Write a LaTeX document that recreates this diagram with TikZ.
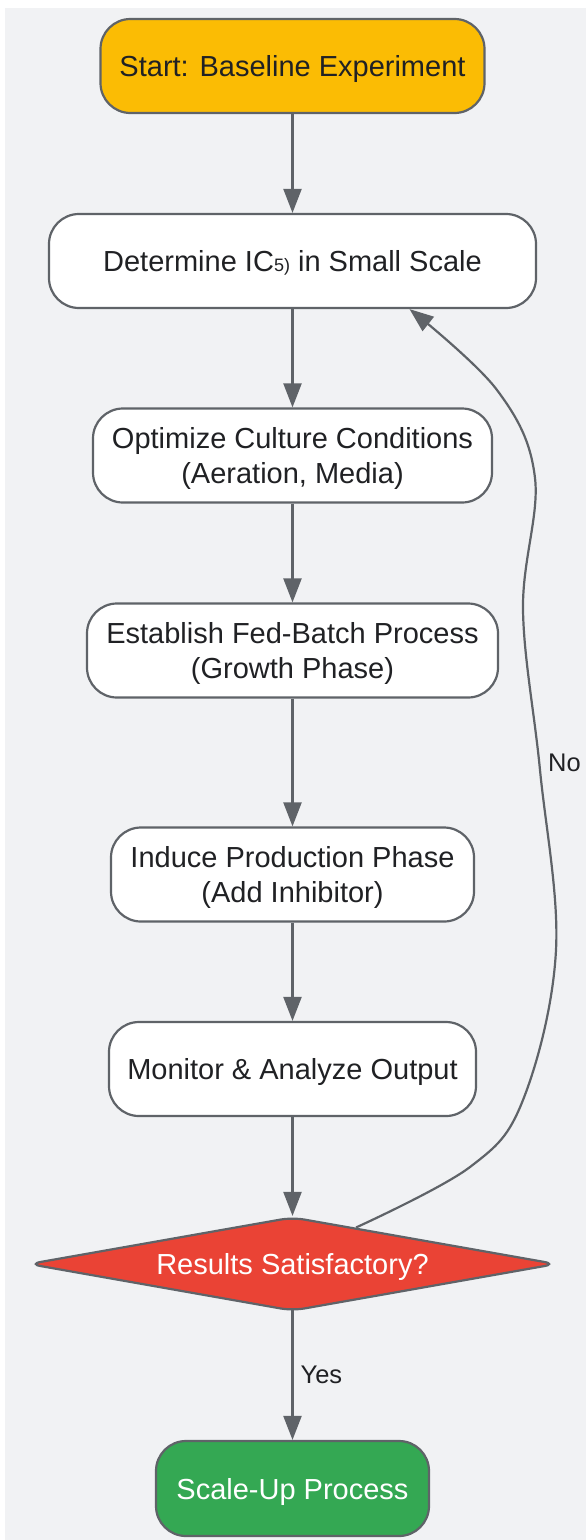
\documentclass[tikz,border=0pt]{standalone}
\usepackage{fontspec}
\setmainfont{Liberation Sans}
\usetikzlibrary{shapes.geometric,arrows.meta,calc}
\definecolor{bg}{HTML}{F1F2F4}
\definecolor{edge}{HTML}{5F6368}
\definecolor{txt}{HTML}{202124}
\definecolor{yellowfill}{HTML}{FBBC04}
\definecolor{redfill}{HTML}{EA4335}
\definecolor{greenfill}{HTML}{34A853}
\begin{document}
\begin{tikzpicture}[x=1pt,y=-1pt,
  box/.style={draw=edge, line width=2.2pt, rounded corners=30pt, fill=white,
    minimum height=94pt, text=txt, align=center, inner sep=0pt,
    font=\fontsize{29}{35}\selectfont, text height=21pt, text depth=0pt},
  twoline/.style={text height=56pt, text depth=0pt},
  arr/.style={draw=edge, line width=2.2pt, -{Triangle[length=24pt,width=18pt]}},
  lbl/.style={text=txt, inner sep=0pt, font=\fontsize{25.5}{30}\selectfont}]
\useasboundingbox (0,0) rectangle (586,1540);
\fill[bg] (5,8) rectangle (586,1540);
\node[box, fill=yellowfill, minimum width=384pt] (start) at (292.5,66) {Start: Baseline Experiment};
\node[box, minimum width=487pt] (det) at (292.5,261) {Determine IC{\fontsize{18}{20}\selectfont 5)} in Small Scale};
\node[box, twoline, minimum width=399pt] (opt) at (292.5,455.5) {Optimize Culture Conditions\\(Aeration, Media)};
\node[box, twoline, minimum width=411pt] (est) at (292.5,650.5) {Establish Fed-Batch Process\\(Growth Phase)};
\node[box, twoline, minimum width=363pt] (ind) at (292.5,874.5) {Induce Production Phase\\(Add Inhibitor)};
\node[box, minimum width=367pt] (mon) at (292.5,1069) {Monitor \& Analyze Output};
\node[diamond, aspect=5.5, draw=edge, line width=2.2pt, fill=redfill, minimum width=528pt,
  minimum height=94pt, inner sep=0pt, rounded corners=12pt, text=white,
  font=\fontsize{29}{35}\selectfont, text height=21pt, text depth=0pt] (dec) at (292.5,1264) {Results Satisfactory?};
\node[box, fill=greenfill, text=white, minimum width=273pt, minimum height=95pt] (end) at (292.5,1488.5) {Scale-Up Process};
\draw[arr] (start) -- (det);
\draw[arr] (det) -- (opt);
\draw[arr] (opt) -- (est);
\draw[arr] (est) -- (ind);
\draw[arr] (ind) -- (mon);
\draw[arr] (mon) -- (dec);
\draw[arr] ([yshift=3pt]dec.south) -- node[lbl, anchor=west, xshift=7pt] {Yes} (end);
\coordinate (noS) at ($(dec.north)!0.24!(dec.east)$);
\coordinate (noE) at ([xshift=117pt]det.south);
\draw[arr] plot[smooth, tension=0.6] coordinates {(noS) (470,1167) (523,1100) (556,950) (540,770) (523,610) (535,478) (497,390) (noE)};
\node[lbl, anchor=west] (nolbl) at (548,763) {No};
\end{tikzpicture}
\end{document}
